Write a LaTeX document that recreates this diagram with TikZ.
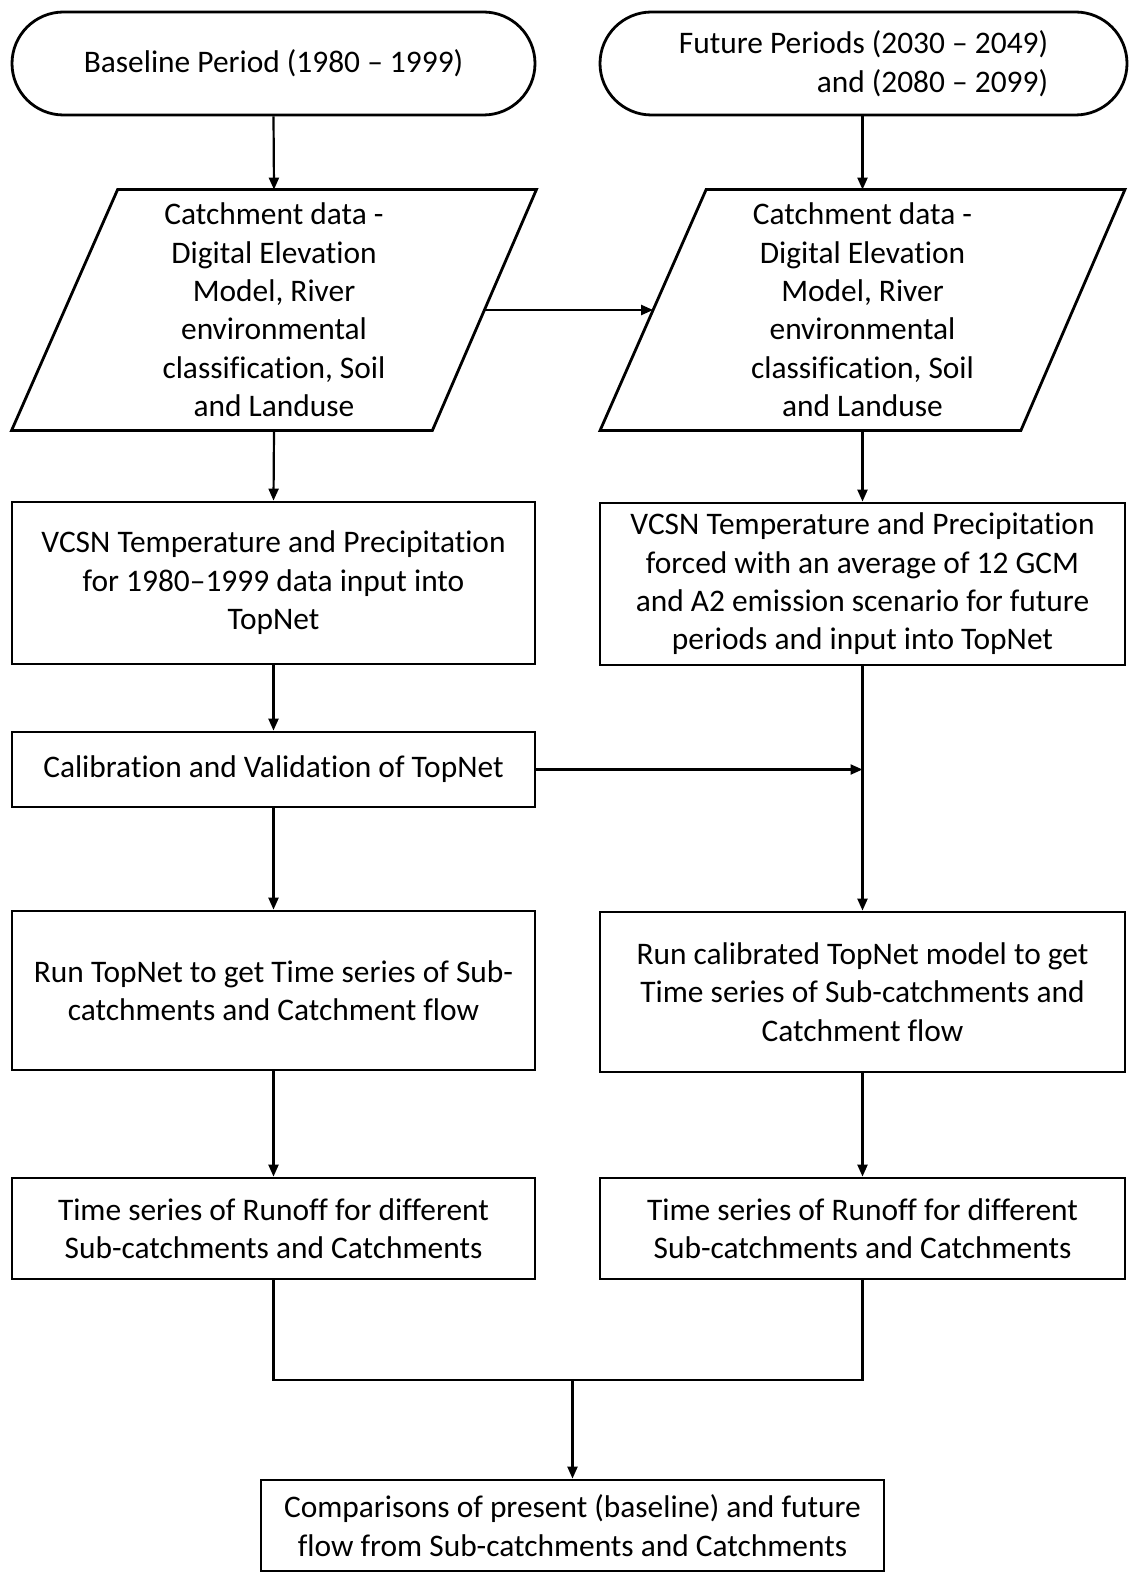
\documentclass[tikz,border=0pt]{standalone}
\usepackage{fontspec}
\setmainfont{Carlito}[Ligatures={NoCommon,NoContextual,NoRare},RawFeature={-calt;-clig;-dlig;-liga}]
\usetikzlibrary{arrows.meta,calc}
\newcommand{\fsz}{\fontsize{15.7}{19.2}\selectfont}
\newcommand{\nti}{t\kern0pt i}
\begin{document}
\begin{tikzpicture}[x=0.5pt,y=-0.5pt,
  box/.style={draw,line width=1.4pt,align=center,inner sep=0pt,font=\fsz},
  term/.style={box,rounded corners=25.75pt},
  paratext/.style={align=center,inner sep=0pt,font=\fsz},
  paraline/.style={line width=1.4pt,line join=miter},
  arr/.style={line width=1.1pt,-{Triangle[length=6pt,width=5pt]}},
  ln/.style={line width=1.1pt}]
\useasboundingbox (0,0) rectangle (1130,1573);

% terminators
\node[term,minimum width=261.5pt,minimum height=51.5pt] (t1) at (273.5,63.5) {Baseline Period (1980 – 1999)};
\node[term,minimum width=263.5pt,minimum height=51.5pt,align=right] (t2) at (863.5,63.5) {Future Periods (2030 – 2049)\\and (2080 – 2099)};

% parallelograms
\node[paratext,minimum width=262pt,minimum height=120pt] (p1) at (274,310) {Catchment data -\\Digital Eleva\nti on\\Model, River\\environmental\\classifica\nti on, Soil\\and Landuse};
\draw[paraline] (p1.south west) -- ($(p1.north west)+(106,0)$) -- (p1.north east) -- ($(p1.south east)+(-104,0)$) -- cycle;
\node[paratext,minimum width=262pt,minimum height=120pt] (p2) at (862.5,310) {Catchment data -\\Digital Eleva\nti on\\Model, River\\environmental\\classifica\nti on, Soil\\and Landuse};
\draw[paraline] (p2.south west) -- ($(p2.north west)+(106,0)$) -- (p2.north east) -- ($(p2.south east)+(-104,0)$) -- cycle;

% boxes
\node[box,minimum width=261.5pt,minimum height=81pt] (v1) at (273.5,583) {VCSN Temperature and Precipita\nti on\\for 1980–1999 data input into\\TopNet};
\node[box,minimum width=262.5pt,minimum height=81pt] (v2) at (862.5,584) {VCSN Temperature and Precipita\nti on\\forced with an average of 12 GCM\\and A2 emission scenario for future\\periods and input into TopNet};
\node[box,minimum width=261.5pt,minimum height=37.5pt] (c1) at (273.5,769.5) {Calibra\nti on and Valida\nti on of TopNet};
\node[box,minimum width=261.5pt,minimum height=79.5pt] (r1) at (273.5,990.5) {Run TopNet to get Time series of Sub-\\catchments and Catchment flow};
\node[box,minimum width=262.5pt,minimum height=80pt] (r2) at (862.5,992) {Run calibrated TopNet model to get\\Time series of Sub-catchments and\\Catchment flow};
\node[box,minimum width=261.5pt,minimum height=50.5pt] (s1) at (273.5,1228.5) {Time series of Runoff for different\\Sub-catchments and Catchments};
\node[box,minimum width=262.5pt,minimum height=50.5pt] (s2) at (862.5,1228.5) {Time series of Runoff for different\\Sub-catchments and Catchments};
\node[box,minimum width=311.5pt,minimum height=45.5pt] (f) at (572.5,1525.5) {Comparisons of present (baseline) and future\\flow from Sub-catchments and Catchments};

\coordinate (m) at (862.5,769.5);
\coordinate (j) at (572.5,1380);

% connectors
\draw[arr] (t1.south) -- (p1.north);
\draw[arr] (t2.south -| p2.north) -- (p2.north);
\draw[arr] ($(p1.east)+(-52,0)$) -- ($(p2.west)+(53,0)$);
\draw[arr] (p1.south) -- (v1.north);
\draw[arr] (p2.south) -- (v2.north);
\draw[arr] (v1.south) -- (c1.north);
\draw[arr] (c1.east) -- (m);
\draw[arr] (v2.south) -- (r2.north);
\draw[arr] (c1.south) -- (r1.north);
\draw[arr] (r1.south) -- (s1.north);
\draw[arr] (r2.south) -- (s2.north);
\draw[ln] (s1.south) |- (j) -| (s2.south);
\draw[arr] (j) -- (f.north);
\end{tikzpicture}
\end{document}
